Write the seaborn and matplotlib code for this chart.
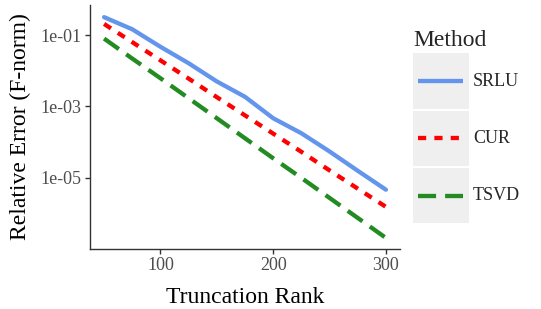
import numpy as np
import pandas as pd
import matplotlib
matplotlib.use("Agg")
import matplotlib.pyplot as plt
import seaborn as sns
from matplotlib.lines import Line2D
from matplotlib.patches import Rectangle

# ---- data ----
rank = [50, 75, 100, 125, 150, 175, 200, 225, 250, 275, 300]
srlu_log = [-0.50, -0.84, -1.33, -1.79, -2.30, -2.73, -3.33, -3.75, -4.26, -4.80, -5.33]
cur_log = [-0.69, -1.20, -1.71, -2.22, -2.74, -3.25, -3.76, -4.27, -4.79, -5.30, -5.81]
tsvd_log = [-1.10, -1.66, -2.21, -2.77, -3.33, -3.89, -4.45, -5.00, -5.56, -6.12, -6.68]
methods = ["SRLU", "CUR", "TSVD"]
y_ticks = [1e-1, 1e-3, 1e-5]
y_tick_labels = ["1e-01", "1e-03", "1e-05"]
x_ticks = [100, 200, 300]

df = pd.DataFrame({
    "rank": rank * 3,
    "err": list(10 ** np.array(srlu_log)) + list(10 ** np.array(cur_log)) + list(10 ** np.array(tsvd_log)),
    "Method": ["SRLU"] * len(rank) + ["CUR"] * len(rank) + ["TSVD"] * len(rank),
})

palette = {"SRLU": "#6495ED", "CUR": "#FF0000", "TSVD": "#228B22"}
LW = 3.1
dashes = {"SRLU": "", "CUR": (1.9, 1.9), "TSVD": (4.2, 2.1)}

sns.set_theme(style="white")
plt.rcParams["font.family"] = ["Liberation Serif", "DejaVu Serif"]

W, H = 541, 309
fig = plt.figure(figsize=(W / 100, H / 100), dpi=100)
ax = fig.add_axes([90 / W, 1 - 249 / H, 310 / W, 244 / H])

sns.lineplot(data=df, x="rank", y="err", hue="Method", style="Method",
             hue_order=methods, style_order=methods, palette=palette,
             dashes=dashes, linewidth=LW, ax=ax, legend=False)

ax.set_yscale("log")
ax.set_xlim(37.5, 312.5)
ax.set_ylim(10 ** -6.99, 10 ** -0.16)
ax.set_yticks(y_ticks)
ax.set_yticklabels(y_tick_labels)
ax.yaxis.set_minor_locator(matplotlib.ticker.NullLocator())
ax.set_xticks(x_ticks)
ax.set_xticklabels([str(v) for v in x_ticks])

for s in ["top", "right"]:
    ax.spines[s].set_visible(False)
for s in ["left", "bottom"]:
    ax.spines[s].set_color("#333333")
    ax.spines[s].set_linewidth(1.0)
ax.tick_params(axis="both", which="major", length=3.5, width=1.0, color="#333333",
               labelsize=13, labelcolor="#4D4D4D", pad=2.5, direction="out",
               left=True, bottom=True)

ax.set_xlabel("Truncation Rank", fontsize=17, color="black", labelpad=9)
ax.set_ylabel("Relative Error (F-norm)", fontsize=17, color="black", labelpad=7)

# ---- legend drawn ggplot-style ----
fig.text(413 / W, 1 - 41 / H, "Method", fontsize=17, ha="left", va="center")
key_x0, key_w = 413, 56
rows = [(53, 109), (111, 166), (168, 223)]
for m, (y0, y1) in zip(methods, rows):
    fig.patches.append(Rectangle((key_x0 / W, 1 - y1 / H), key_w / W, (y1 - y0) / H,
                                 transform=fig.transFigure, facecolor="#EFEFEF",
                                 edgecolor="none"))
    yc = 1 - (y0 + y1) / 2 / H
    ln = Line2D([(key_x0 + 5) / W, (key_x0 + key_w - 6) / W], [yc, yc],
                transform=fig.transFigure, color=palette[m], linewidth=LW,
                solid_capstyle="butt", dash_capstyle="butt")
    if dashes[m]:
        ln.set_dashes(dashes[m])
    fig.lines.append(ln)
    fig.text(473 / W, yc, m, fontsize=13, ha="left", va="center")

fig.savefig("out.png", dpi=100)
